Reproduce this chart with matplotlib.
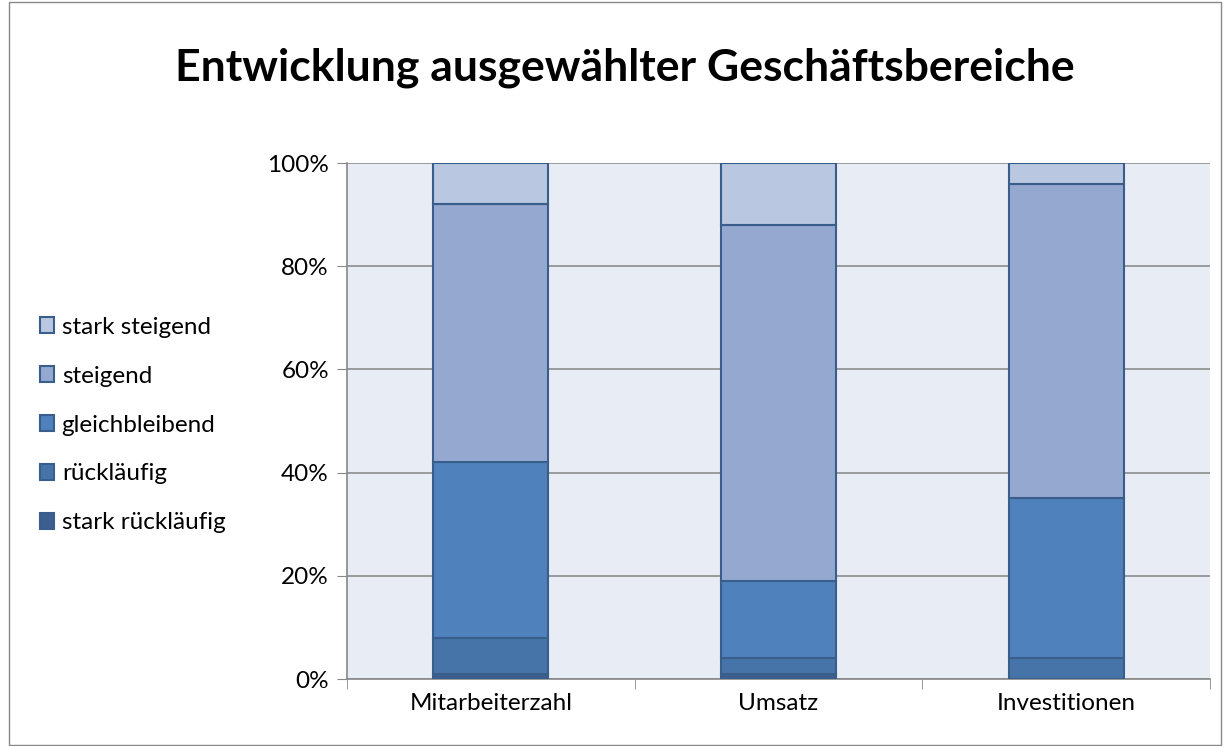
import matplotlib.pyplot as plt
from matplotlib.patches import Patch, Rectangle
import numpy as np

plt.rcParams['font.family'] = ['Lato', 'DejaVu Sans']

categories = ["Mitarbeiterzahl", "Umsatz", "Investitionen"]
series = ["stark rückläufig", "rückläufig", "gleichbleibend", "steigend", "stark steigend"]
stark_ruecklaeufig = [1, 1, 0]
ruecklaeufig = [7, 3, 4]
gleichbleibend = [34, 15, 31]
steigend = [50, 69, 61]
stark_steigend = [8, 12, 4]
values = [stark_ruecklaeufig, ruecklaeufig, gleichbleibend, steigend, stark_steigend]
colors = ["#3D5F8F", "#4774A8", "#4F81BD", "#95A9D0", "#B9C7E0"]
edge = "#3A5E8C"

fig = plt.figure(figsize=(12.25, 7.46), dpi=100)
ax = fig.add_axes([347/1225, 1-679/746, (1210-347)/1225, (679-163)/746])
ax.set_facecolor("#E8ECF4")

x = np.arange(len(categories))
bottom = np.zeros(len(categories))
for vals, col in zip(values, colors):
    vals = np.array(vals, dtype=float)
    ax.bar(x, vals, 0.4, bottom=bottom, color=col, edgecolor=edge, linewidth=1.5, zorder=3)
    bottom += vals

ax.set_xlim(-0.5, len(categories) - 0.5)
ax.set_ylim(0, 100)
ax.set_yticks(range(0, 101, 20))
ax.set_yticklabels([f"{v}%" for v in range(0, 101, 20)], fontsize=17.5)
ax.set_xticks(x)
ax.set_xticklabels(categories, fontsize=17.5)
ax.set_xticks(np.arange(-0.5, len(categories), 1), minor=True)
ax.tick_params(axis='x', which='major', length=0, pad=10)
ax.tick_params(axis='x', which='minor', length=7, color="#888888", direction='out')
ax.tick_params(axis='y', length=7, color="#888888", pad=6)
ax.grid(axis='y', color="#8C8C8C", linewidth=1.2, zorder=0)
for s in ["top", "right"]:
    ax.spines[s].set_visible(False)
ax.spines["left"].set_color("#888888")
ax.spines["bottom"].set_color("#888888")
ax.spines["left"].set_linewidth(1.2)
ax.spines["bottom"].set_linewidth(1.2)

fig.text(625/1225, 1-68/746, "Entwicklung ausgewählter Geschäftsbereiche",
         ha='center', va='center', fontsize=32, fontweight='bold')

handles = [Patch(facecolor=c, edgecolor=edge, linewidth=1.5) for c in colors[::-1]]
fig.legend(handles, series[::-1], loc='center left', bbox_to_anchor=(18/1225, 1-425/746),
           frameon=False, fontsize=17.5, handlelength=0.6, handleheight=0.6,
           handletextpad=0.3, labelspacing=1.15)

fig.add_artist(Rectangle((9/1225, 0.002), 1212/1225, 0.995, transform=fig.transFigure,
                         fill=False, edgecolor="#888888", linewidth=1))

fig.savefig("out.png", dpi=100)
